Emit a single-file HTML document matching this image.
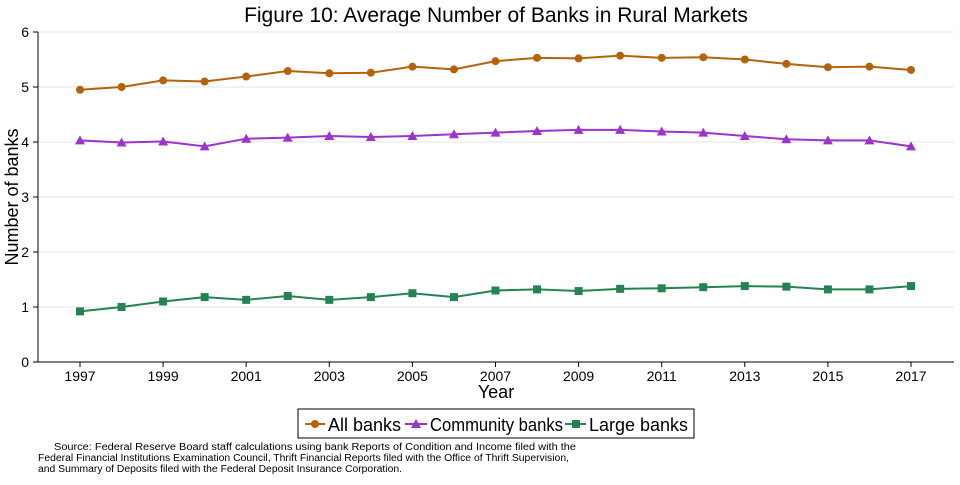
<!DOCTYPE html>
<html><head><meta charset="utf-8"><style>
body{margin:0;background:#fff;width:960px;height:480px;overflow:hidden;font-family:"Liberation Sans",sans-serif}
svg text{font-family:"Liberation Sans",sans-serif}
</style></head><body>
<svg id="chart" width="960" height="480" xmlns="http://www.w3.org/2000/svg">
<text x="496" y="22" font-size="21" text-anchor="middle">Figure 10: Average Number of Banks in Rural Markets</text>
<g id="grid"></g><g id="axes"></g><g id="series"></g>
<text x="496" y="398" font-size="18" text-anchor="middle">Year</text>
<text transform="translate(18,197) rotate(-90)" font-size="18" text-anchor="middle">Number of banks</text>
<g>
<rect x="298" y="409" width="396" height="29" fill="#fff" stroke="#000" stroke-width="1"/>
<line x1="305" y1="424" x2="325" y2="424" stroke="#b5620b" stroke-width="2"/><circle cx="315" cy="424" r="4" fill="#b5620b"/>
<text x="328" y="431" font-size="18" textLength="73" lengthAdjust="spacingAndGlyphs">All banks</text>
<line x1="405" y1="424" x2="427" y2="424" stroke="#9d33cc" stroke-width="2"/><path d="M416 419 L421 428 L411 428Z" fill="#9d33cc"/>
<text x="430" y="431" font-size="18" textLength="133" lengthAdjust="spacingAndGlyphs">Community banks</text>
<line x1="565" y1="424" x2="586" y2="424" stroke="#238452" stroke-width="2"/><rect x="572" y="420" width="8" height="8" fill="#238452"/>
<text x="589" y="431" font-size="18" textLength="99" lengthAdjust="spacingAndGlyphs">Large banks</text>
</g>
<g font-size="10">
<text x="54" y="450" textLength="522" lengthAdjust="spacingAndGlyphs">Source: Federal Reserve Board staff calculations using bank Reports of Condition and Income filed with the</text>
<text x="38" y="461" textLength="531" lengthAdjust="spacingAndGlyphs">Federal Financial Institutions Examination Council, Thrift Financial Reports filed with the Office of Thrift Supervision,</text>
<text x="38" y="472" textLength="364" lengthAdjust="spacingAndGlyphs">and Summary of Deposits filed with the Federal Deposit Insurance Corporation.</text>
</g>
</svg>
<script>
const years=[1997,1998,1999,2000,2001,2002,2003,2004,2005,2006,2007,2008,2009,2010,2011,2012,2013,2014,2015,2016,2017];
const allBanks=[4.95,5.0,5.12,5.1,5.19,5.29,5.25,5.26,5.37,5.32,5.47,5.53,5.52,5.57,5.53,5.54,5.50,5.42,5.36,5.37,5.31];
const communityBanks=[4.03,3.99,4.01,3.92,4.06,4.08,4.11,4.09,4.11,4.14,4.17,4.20,4.22,4.22,4.19,4.17,4.11,4.05,4.03,4.03,3.92];
const largeBanks=[0.92,1.0,1.1,1.18,1.13,1.2,1.13,1.18,1.25,1.18,1.3,1.32,1.29,1.33,1.34,1.36,1.38,1.37,1.32,1.32,1.38];
const yTicks=[0,1,2,3,4,5,6];
const xTicks=[1997,1999,2001,2003,2005,2007,2009,2011,2013,2015,2017];
const NS="http://www.w3.org/2000/svg";
const x=v=>80+(v-1997)*(911-80)/20;
const y=v=>362-v*55;
function mk(t,a,p){const e=document.createElementNS(NS,t);for(const k in a)e.setAttribute(k,a[k]);p.appendChild(e);return e;}
const grid=document.getElementById('grid'),axes=document.getElementById('axes'),ser=document.getElementById('series');
yTicks.forEach(t=>{
 if(t>0){const g=mk('line',{x1:38,x2:954,y1:y(t),y2:y(t),stroke:'#e6e6e6','stroke-width':1},grid);
 
 }
 mk('line',{x1:33,x2:38,y1:y(t),y2:y(t),stroke:'#000'},axes);
 const tx=mk('text',{x:29,y:y(t)+5,'font-size':14,'text-anchor':'end'},axes);tx.textContent=t;
 
 
});
const ya=mk('line',{x1:38,x2:38,y1:y(6),y2:362,stroke:'#000'},axes);


const xa=mk('line',{x1:38,x2:954,y1:362,y2:362,stroke:'#000'},axes);


xTicks.forEach(t=>{
 mk('line',{x1:x(t),x2:x(t),y1:362,y2:367,stroke:'#000'},axes);
 const tx=mk('text',{x:x(t),y:381,'font-size':14,'text-anchor':'middle'},axes);tx.textContent=t;
 
 
});
function draw(vals,color,shape,name){
 const g=mk('g',{},ser);
 
 
 mk('polyline',{points:vals.map((v,i)=>x(years[i])+','+y(v)).join(' '),fill:'none',stroke:color,'stroke-width':2},g);
 vals.forEach((v,i)=>{const cx=x(years[i]),cy=y(v);let m;
  if(shape==='c')m=mk('circle',{cx:cx,cy:cy,r:4,fill:color},g);
  else if(shape==='t')m=mk('path',{d:`M${cx} ${cy-5} L${cx+5} ${cy+4} L${cx-5} ${cy+4}Z`,fill:color},g);
  else m=mk('rect',{x:cx-4,y:cy-4,width:8,height:8,fill:color},g);
  
  
 });
}
draw(allBanks,'#b5620b','c','series-all-banks');
draw(communityBanks,'#9d33cc','t','series-community-banks');
draw(largeBanks,'#238452','s','series-large-banks');
</script>
</body></html>
